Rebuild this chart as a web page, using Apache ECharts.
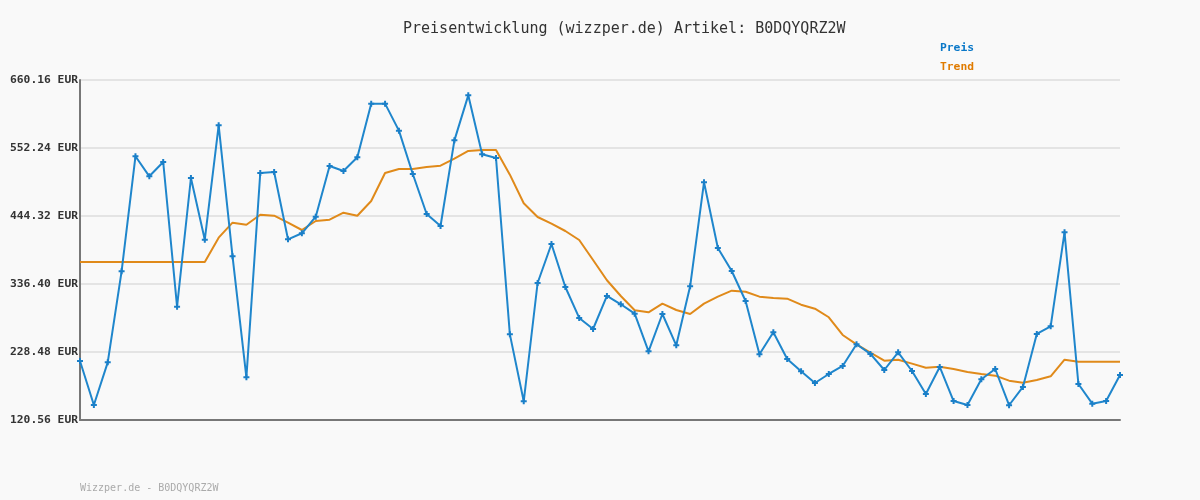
<!DOCTYPE html>
<html>
<head>
<meta charset="utf-8">
<script src="https://cdn.jsdelivr.net/npm/echarts@6/dist/echarts.min.js"></script>
<style>
html,body{margin:0;padding:0;background:#f9f9f9;}
#chart{width:1200px;height:500px;}
</style>
</head>
<body>
<div id="chart"></div>
<script>
const titleText = 'Preisentwicklung (wizzper.de) Artikel: B0DQYQRZ2W';
const footerText = 'Wizzper.de - B0DQYQRZ2W';
const seriesNames = ['Preis', 'Trend'];
const yTicks = [120.56, 228.48, 336.40, 444.32, 552.24, 660.16];

const preis = [
  214.2, 144.4, 212.1, 356.5, 539.1, 507.3, 530.0, 300.4, 504.6, 406.7,
  588.2, 380.3, 188.3, 512.6, 514.2, 407.3, 416.9, 443.2, 523.7, 515.7,
  537.5, 622.6, 622.6, 579.8, 511.0, 447.5, 428.5, 564.4, 635.8, 542.2,
  536.4, 256.5, 150.2, 338.0, 399.9, 331.6, 282.5, 265.0, 317.4, 304.2,
  289.3, 229.6, 288.8, 239.1, 332.7, 497.8, 393.5, 357.0, 309.4, 224.8,
  259.7, 217.4, 197.8, 179.3, 193.6, 206.3, 240.7, 225.5, 199.9, 228.0,
  198.3, 161.8, 204.7, 150.7, 144.4, 185.2, 201.5, 144.0, 173.0, 257.1,
  269.2, 418.4, 177.7, 146.5, 150.7, 192.0
];
const trend = [
  371.3, 371.3, 371.3, 371.3, 371.3, 371.3, 371.3, 371.3, 371.3, 371.3,
  409.9, 433.7, 430.5, 446.4, 444.8, 433.7, 422.1, 436.4, 438.5, 449.6,
  444.8, 468.1, 512.6, 518.9, 518.9, 522.1, 524.2, 535.3, 547.5, 549.1,
  549.1, 509.9, 464.5, 442.7, 432.1, 420.5, 406.2, 374.5, 342.3, 317.4,
  294.8, 291.5, 305.2, 295.1, 288.8, 305.2, 316.3, 325.8, 324.2, 316.3,
  314.2, 313.1, 303.6, 297.2, 283.6, 255.5, 240.7, 227.4, 214.7, 216.3,
  210.0, 203.6, 205.2, 201.5, 196.8, 193.6, 190.9, 183.0, 179.8, 184.0,
  189.9, 216.3, 213.1, 213.1, 213.1, 213.1
];
const categories = preis.map((_, i) => String(i + 1));

const base = yTicks[0];
const step = yTicks[1] - yTicks[0];
const span = yTicks[yTicks.length - 1] - base;

const chart = echarts.init(document.getElementById('chart'));
const mono = '"DejaVu Sans Mono", "Liberation Mono", monospace';
chart.setOption({
  backgroundColor: '#f9f9f9',
  animation: false,
  title: [{
    text: titleText,
    left: 398, top: 17,
    textStyle: {fontFamily: mono, fontSize: 15, fontWeight: 'normal', color: '#333'}
  }, {
    text: footerText,
    left: 75, top: 478,
    textStyle: {fontFamily: mono, fontSize: 10, fontWeight: 'normal', color: '#aaa'}
  }],
  legend: {
    orient: 'vertical',
    left: 935, top: 36,
    itemGap: 7,
    icon: 'none',
    itemWidth: 0,
    selectedMode: false,
    textStyle: {fontFamily: mono, fontSize: 11.3, fontWeight: 'bold', padding: [0,0,0,-5]},
    data: [
      {name: seriesNames[0], textStyle: {color: '#0a78c8'}},
      {name: seriesNames[1], textStyle: {color: '#e07b00'}}
    ]
  },
  grid: {left: 80, right: 80, top: 80, bottom: 80, containLabel: false},
  xAxis: {
    type: 'category',
    data: categories,
    boundaryGap: false,
    axisLine: {lineStyle: {color: '#777', width: 2}},
    axisTick: {show: false},
    axisLabel: {show: false},
    splitLine: {show: false}
  },
  yAxis: {
    type: 'value',
    min: 0, max: span, interval: step,
    axisLine: {show: true, lineStyle: {color: '#777', width: 2}},
    axisTick: {show: false},
    axisLabel: {
      margin: 2,
      fontFamily: mono, fontSize: 11.3, fontWeight: 'bold', color: '#333',
      padding: [2, 0, 0, 0],
      formatter: v => (v + base).toFixed(2) + ' EUR'
    },
    splitLine: {show: true, lineStyle: {color: '#e4e4e4', width: 2}}
  },
  series: [{
    name: seriesNames[0],
    type: 'line',
    data: preis.map(v => +(v - base).toFixed(2)),
    symbol: 'path://M2,0H4V2H6V4H4V6H2V4H0V2H2Z',
    symbolSize: 6,
    showAllSymbol: true,
    itemStyle: {color: '#1a7fc8'},
    lineStyle: {color: '#1f86cc', width: 2},
    z: 3
  }, {
    name: seriesNames[1],
    type: 'line',
    data: trend.map(v => +(v - base).toFixed(2)),
    symbol: 'none',
    itemStyle: {color: '#e08a1a'},
    lineStyle: {color: '#e08a1a', width: 2},
    z: 2
  }]
});
</script>
</body>
</html>
